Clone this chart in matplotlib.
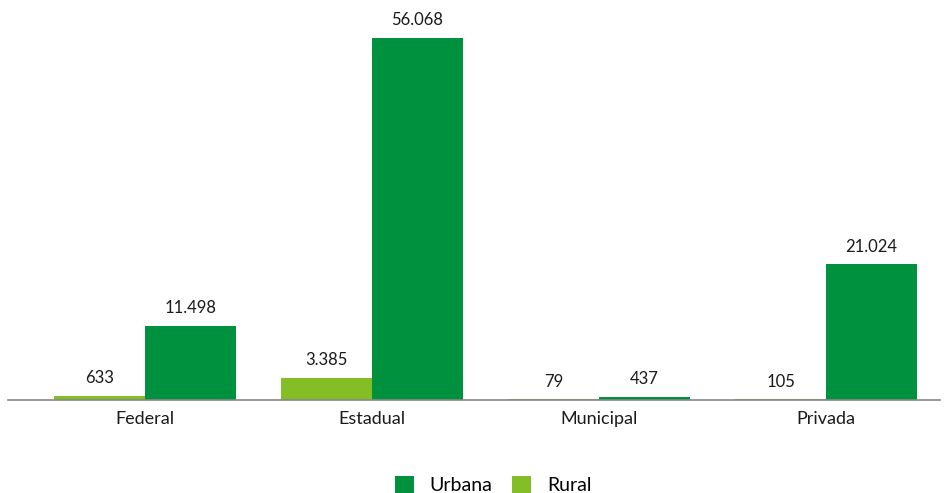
import matplotlib.pyplot as plt
import numpy as np

plt.rcParams['font.family'] = ['Lato', 'DejaVu Sans']

# Dados
categorias = ['Federal', 'Estadual', 'Municipal', 'Privada']
urbana = [11498, 56068, 437, 21024]
rural = [633, 3385, 79, 105]


def fmt(v):
    return f'{v:,}'.replace(',', '.')


fig = plt.figure(figsize=(9.49, 4.93), dpi=100)
ax = fig.add_axes([8 / 949, 93 / 493, 932 / 949, 390 / 493])

x = np.arange(len(categorias))
largura = 0.4
cor_urbana = '#00913F'
cor_rural = '#84BD25'

b_rural = ax.bar(x - largura / 2, rural, largura, color=cor_rural, label='Rural')
b_urbana = ax.bar(x + largura / 2, urbana, largura, color=cor_urbana, label='Urbana')

for barras, valores in ((b_rural, rural), (b_urbana, urbana)):
    for barra, v in zip(barras, valores):
        ax.annotate(fmt(v), (barra.get_x() + barra.get_width() / 2, barra.get_height()),
                    xytext=(0, 7), textcoords='offset points',
                    ha='center', va='bottom', fontsize=12, color='#1a1a1a')

ax.set_xlim(-0.604, 3.502)
ax.set_ylim(0, 56068 * 390 / 362)
ax.set_xticks(x)
ax.set_xticklabels(categorias, fontsize=13, color='#1a1a1a')
ax.tick_params(axis='x', length=0, pad=8)
ax.set_yticks([])
for lado in ['top', 'right', 'left']:
    ax.spines[lado].set_visible(False)
ax.spines['bottom'].set_color('#888888')
ax.spines['bottom'].set_linewidth(1.2)

handles = [b_urbana, b_rural]
fig.legend(handles, ['Urbana', 'Rural'], loc='center', bbox_to_anchor=(493 / 949, 1 - 485 / 493),
           ncol=2, frameon=False, fontsize=14, handlelength=1.0, handleheight=1.0,
           columnspacing=1.0, handletextpad=0.8)

fig.savefig('out.png', dpi=100)
